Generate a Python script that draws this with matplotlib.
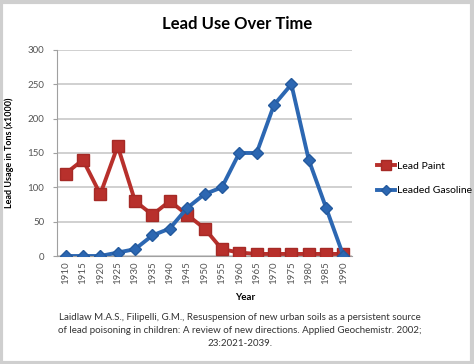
import matplotlib
matplotlib.use('Agg')
import matplotlib.pyplot as plt
from matplotlib.patches import Rectangle

years = [1910, 1915, 1920, 1925, 1930, 1935, 1940, 1945, 1950,
         1955, 1960, 1965, 1970, 1975, 1980, 1985, 1990]
lead_paint = [120, 140, 90, 160, 80, 60, 80, 60, 40, 10, 5, 3, 3, 3, 3, 3, 3]
leaded_gas = [0, 0, 0, 5, 10, 30, 40, 70, 90, 100, 150, 150, 220, 250, 140, 70, 0]
y_ticks = [0, 50, 100, 150, 200, 250, 300]

plt.rcParams['font.family'] = ['Lato', 'DejaVu Sans']

fig = plt.figure(figsize=(4.74, 3.64), dpi=100)
fig.patches.append(Rectangle((0.003, 0.004), 0.992, 0.99, transform=fig.transFigure,
                             fill=False, edgecolor='#cfcfcf', linewidth=3))

ax = fig.add_axes([0.120, 0.2967, 0.623, 0.566])
x = list(range(len(years)))

ax.plot(x, lead_paint, color='#B8302C', lw=2.8, marker='s', ms=8.5,
        markeredgecolor='#A52A26', label='Lead Paint', zorder=3)
ax.plot(x, leaded_gas, color='#2C67B2', lw=2.8, marker='D', ms=6,
        markeredgecolor='#245A9E', label='Leaded Gasoline', zorder=4)

ax.set_xlim(-0.5, len(years) - 0.5)
ax.set_ylim(0, 300)
ax.set_yticks(y_ticks)
ax.set_yticklabels([str(v) for v in y_ticks], fontsize=7, color='#555555')
ax.set_xticks(x)
ax.set_xticklabels([str(y) for y in years], rotation=90, fontsize=7, color='#555555')
ax.yaxis.grid(True, color='#c8c8c8', lw=1.2)
ax.set_axisbelow(True)
for s in ['top', 'right']:
    ax.spines[s].set_visible(False)
ax.spines['left'].set_color('#a0a0a0')
ax.spines['bottom'].set_color('#a0a0a0')
ax.tick_params(axis='y', length=3, color='#a0a0a0', pad=6)
ax.tick_params(axis='x', length=0, pad=4)

ax.set_ylabel('Lead Usage in Tons (x1000)', fontsize=6.5, fontweight='bold', labelpad=10)

fig.text(0.5, 0.934, 'Lead Use Over Time', ha='center', va='center',
         fontsize=12, fontweight='bold')
fig.text(0.517, 0.184, 'Year', ha='center', va='center', fontsize=7, fontweight='bold')
caption = ("Laidlaw M.A.S., Filipelli, G.M., Resuspension of new urban soils as a persistent source\n"
           "of lead poisoning in children: A review of new directions. Applied Geochemistr. 2002;\n"
           "23:2021-2039.")
fig.text(0.506, 0.092, caption, ha='center', va='center', fontsize=7,
         color='#333333', linespacing=1.55)

fig.legend(loc='center left', bbox_to_anchor=(0.775, 0.51), frameon=False,
           fontsize=7.5, handlelength=1.8, handletextpad=0.1, labelspacing=1.5,
           markerscale=0.8)

fig.savefig('out.png', dpi=100)
